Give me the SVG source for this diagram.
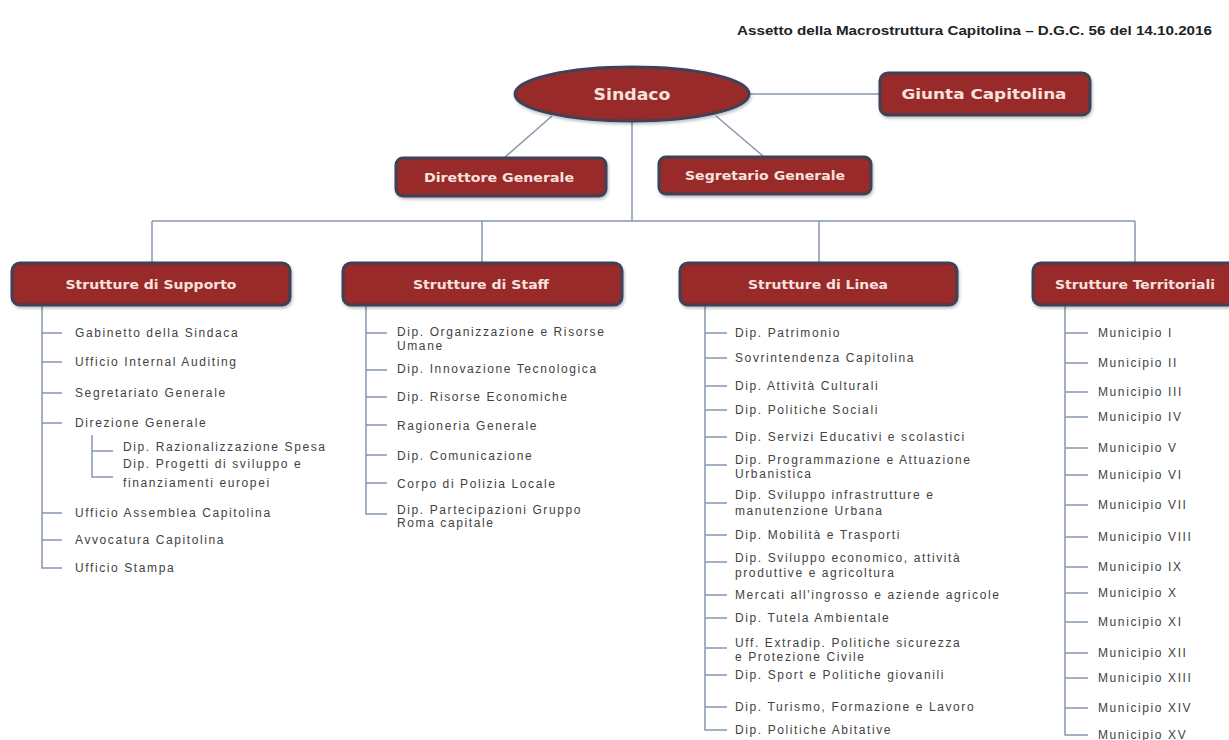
<svg xmlns="http://www.w3.org/2000/svg" width="1229" height="740" viewBox="0 0 1229 740">
<style>
.box{fill:#982a2a;stroke:#3d4359;stroke-width:3}
.hd{font-family:"DejaVu Sans","Liberation Sans",sans-serif;font-weight:bold;fill:#f7e2de;text-anchor:middle}
.ln{stroke:#8797ad;stroke-width:1.5;fill:none}
.it{font-family:"Liberation Sans",Arial,sans-serif;font-size:12px;letter-spacing:1.6px;fill:#424242}
.ttl{font-family:"Liberation Sans",Arial,sans-serif;font-size:12px;font-weight:bold;fill:#222}
</style>
<defs>
<filter id="sh" x="-10%" y="-20%" width="120%" height="150%">
<feDropShadow dx="1" dy="2" stdDeviation="1.5" flood-color="#000" flood-opacity="0.25"/>
</filter>
</defs>
<rect width="1229" height="740" fill="#ffffff"/>
<text class="ttl" x="737" y="35" textLength="475" lengthAdjust="spacingAndGlyphs">Assetto della Macrostruttura Capitolina – D.G.C.  56 del 14.10.2016</text>

<g id="connectors">
<line class="ln" x1="750" y1="94" x2="880" y2="94"/>
<line class="ln" x1="552" y1="116" x2="505" y2="157"/>
<line class="ln" x1="716" y1="116" x2="763" y2="156"/>
<line class="ln" x1="632" y1="121" x2="632" y2="221"/>
<line class="ln" x1="152" y1="221" x2="1135" y2="221"/>
<line class="ln" x1="152" y1="221" x2="152" y2="262"/>
<line class="ln" x1="482" y1="221" x2="482" y2="262"/>
<line class="ln" x1="819" y1="221" x2="819" y2="262"/>
<line class="ln" x1="1135" y1="221" x2="1135" y2="262"/>
<path class="ln" d="M42 305V568H62M42 333H62M42 362H62M42 393H62M42 423H62M42 513H62M42 540H62"/>
<path class="ln" d="M92 435V477H113M92 451H113"/>
<path class="ln" d="M366 305V514H387M366 333H387M366 370H387M366 397H387M366 425H387M366 455H387M366 483H387"/>
<path class="ln" d="M705 305V730H727M705 333H727M705 358H727M705 386H727M705 410H727M705 437H727M705 465H727M705 503H727M705 535H727M705 562H727M705 595H727M705 618H727M705 648H727M705 675H727M705 707H727"/>
<path class="ln" d="M1065 305V735H1088M1065 333H1088M1065 363H1088M1065 392H1088M1065 417H1088M1065 448H1088M1065 475H1088M1065 505H1088M1065 537H1088M1065 567H1088M1065 593H1088M1065 622H1088M1065 653H1088M1065 678H1088M1065 708H1088"/>
</g>

<g id="sindaco">
<ellipse class="box" cx="632" cy="94" rx="117" ry="27" filter="url(#sh)"/>
<text class="hd" x="632" y="99.5" font-size="15" textLength="77" lengthAdjust="spacingAndGlyphs">Sindaco</text>
</g>
<g id="giunta">
<rect class="box" x="880" y="73" width="210" height="42" rx="8" filter="url(#sh)"/>
<text class="hd" x="984" y="99" font-size="14" textLength="165" lengthAdjust="spacingAndGlyphs">Giunta Capitolina</text>
</g>
<g id="direttore">
<rect class="box" x="396" y="158" width="210" height="38" rx="7" filter="url(#sh)"/>
<text class="hd" x="499" y="181.5" font-size="12.5" textLength="150" lengthAdjust="spacingAndGlyphs">Direttore Generale</text>
</g>
<g id="segretario">
<rect class="box" x="659" y="157" width="212" height="37" rx="7" filter="url(#sh)"/>
<text class="hd" x="765" y="180" font-size="12.5" textLength="160" lengthAdjust="spacingAndGlyphs">Segretario Generale</text>
</g>

<g id="supporto">
<rect class="box" x="12" y="263" width="278" height="42" rx="8" filter="url(#sh)"/>
<text class="hd" x="151" y="288.5" font-size="13" textLength="171" lengthAdjust="spacingAndGlyphs">Strutture di Supporto</text>
</g>
<g id="staff">
<rect class="box" x="343" y="263" width="279" height="42" rx="8" filter="url(#sh)"/>
<text class="hd" x="481" y="288.5" font-size="13" textLength="136" lengthAdjust="spacingAndGlyphs">Strutture di Staff</text>
</g>
<g id="linea">
<rect class="box" x="680" y="263" width="277" height="42" rx="8" filter="url(#sh)"/>
<text class="hd" x="818" y="288.5" font-size="13" textLength="140" lengthAdjust="spacingAndGlyphs">Strutture di Linea</text>
</g>
<g id="territoriali">
<rect class="box" x="1033" y="263" width="205" height="42" rx="8" filter="url(#sh)"/>
<text class="hd" x="1135" y="288.5" font-size="13" textLength="160" lengthAdjust="spacingAndGlyphs">Strutture Territoriali</text>
</g>

<g id="list-supporto">
<text class="it" x="75" y="337">Gabinetto della Sindaca</text>
<text class="it" x="75" y="366">Ufficio Internal Auditing</text>
<text class="it" x="75" y="397">Segretariato Generale</text>
<text class="it" x="75" y="427">Direzione Generale</text>
<text class="it" x="123" y="451">Dip. Razionalizzazione Spesa</text>
<text class="it" x="123" y="468">Dip. Progetti di sviluppo e</text>
<text class="it" x="123" y="487">finanziamenti europei</text>
<text class="it" x="75" y="517">Ufficio Assemblea Capitolina</text>
<text class="it" x="75" y="544">Avvocatura Capitolina</text>
<text class="it" x="75" y="572">Ufficio Stampa</text>
</g>

<g id="list-staff">
<text class="it" x="397" y="336">Dip. Organizzazione e Risorse</text>
<text class="it" x="397" y="350">Umane</text>
<text class="it" x="397" y="373">Dip. Innovazione Tecnologica</text>
<text class="it" x="397" y="401">Dip. Risorse Economiche</text>
<text class="it" x="397" y="430">Ragioneria Generale</text>
<text class="it" x="397" y="460">Dip. Comunicazione</text>
<text class="it" x="397" y="488">Corpo di Polizia Locale</text>
<text class="it" x="397" y="514">Dip. Partecipazioni Gruppo</text>
<text class="it" x="397" y="527">Roma capitale</text>
</g>

<g id="list-linea">
<text class="it" x="735" y="337">Dip. Patrimonio</text>
<text class="it" x="735" y="362">Sovrintendenza Capitolina</text>
<text class="it" x="735" y="390">Dip. Attività Culturali</text>
<text class="it" x="735" y="414">Dip. Politiche Sociali</text>
<text class="it" x="735" y="441">Dip. Servizi Educativi e scolastici</text>
<text class="it" x="735" y="464">Dip. Programmazione e Attuazione</text>
<text class="it" x="735" y="478">Urbanistica</text>
<text class="it" x="735" y="499">Dip. Sviluppo infrastrutture e</text>
<text class="it" x="735" y="515">manutenzione Urbana</text>
<text class="it" x="735" y="539">Dip. Mobilità e Trasporti</text>
<text class="it" x="735" y="562">Dip. Sviluppo economico, attività</text>
<text class="it" x="735" y="577">produttive e agricoltura</text>
<text class="it" x="735" y="599">Mercati all'ingrosso e aziende agricole</text>
<text class="it" x="735" y="622">Dip. Tutela Ambientale</text>
<text class="it" x="735" y="647">Uff. Extradip. Politiche sicurezza</text>
<text class="it" x="735" y="661">e Protezione Civile</text>
<text class="it" x="735" y="679">Dip. Sport e Politiche giovanili</text>
<text class="it" x="735" y="711">Dip. Turismo, Formazione e Lavoro</text>
<text class="it" x="735" y="734">Dip. Politiche Abitative</text>
</g>

<g id="list-territoriali">
<text class="it" x="1098" y="337">Municipio  I</text>
<text class="it" x="1098" y="367">Municipio  II</text>
<text class="it" x="1098" y="396">Municipio  III</text>
<text class="it" x="1098" y="421">Municipio  IV</text>
<text class="it" x="1098" y="452">Municipio  V</text>
<text class="it" x="1098" y="479">Municipio  VI</text>
<text class="it" x="1098" y="509">Municipio  VII</text>
<text class="it" x="1098" y="541">Municipio  VIII</text>
<text class="it" x="1098" y="571">Municipio  IX</text>
<text class="it" x="1098" y="597">Municipio  X</text>
<text class="it" x="1098" y="626">Municipio  XI</text>
<text class="it" x="1098" y="657">Municipio  XII</text>
<text class="it" x="1098" y="682">Municipio  XIII</text>
<text class="it" x="1098" y="712">Municipio  XIV</text>
<text class="it" x="1098" y="739">Municipio  XV</text>
</g>
</svg>
